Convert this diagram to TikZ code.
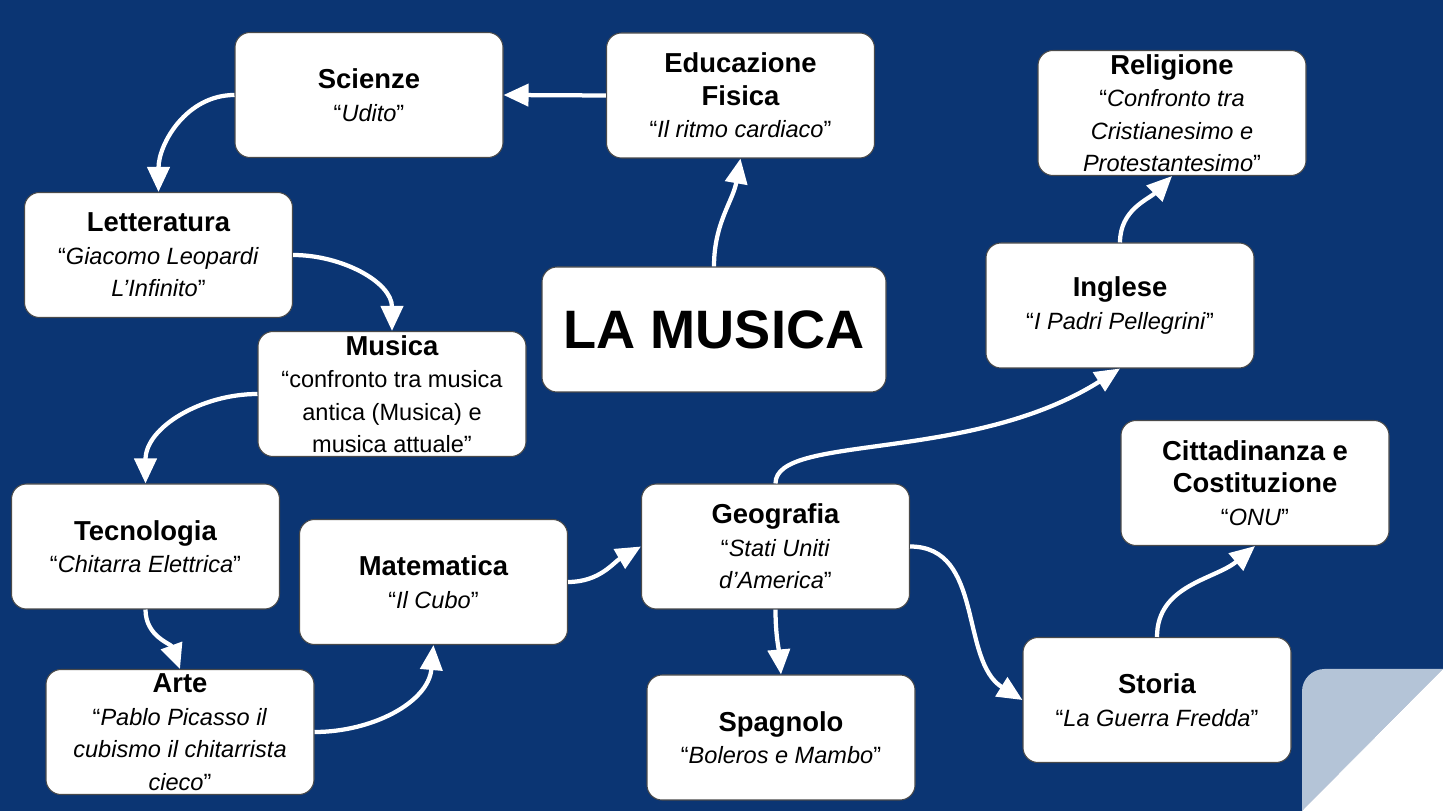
\documentclass[tikz,border=0pt]{standalone}
\usepackage{fontspec}
\setmainfont{Liberation Sans}
\usetikzlibrary{arrows.meta}
\definecolor{cBg}{HTML}{0B3573}
\definecolor{cEdge}{HTML}{4A4A4A}
\definecolor{cFold}{HTML}{B4C4D7}
\newcommand{\titolo}[1]{{\fontsize{15.6}{18.5}\selectfont\bfseries #1}}
\tikzset{
  every node/.style={font=\fontsize{13.4}{18.5}\selectfont, text=black},
  subj/.style={draw=cEdge, line width=0.6pt, rounded corners=0.3cm, fill=white, align=center, minimum width=5.36cm, minimum height=2.5cm, inner sep=1pt},
  hub/.style={subj, minimum width=6.88cm, font=\fontsize{30.8}{36}\selectfont\bfseries},
  arr/.style={-{Triangle[length=0.5cm,width=0.44cm]}, line width=0.085cm, draw=white},
}

\begin{document}
\begin{tikzpicture}[x=1cm,y=1cm]
% background and folded corner
\fill[cBg] (0,0) rectangle (28.86,16.22);
\fill[cFold] (26.04,0) -- (26.04,2.39) arc[start angle=180,end angle=90,radius=0.45] -- (28.86,2.84) -- cycle;
\fill[white] (28.86,2.84) -- (28.86,0) -- (26.04,0) -- cycle;
% central topic
\node[hub] (hub) at (14.28,9.63) {LA MUSICA};
% subjects
\node[subj] (sci) at (7.38,14.32) {\titolo{Scienze}\\“\textit{Udito}”};
\node[subj] (edf) at (14.81,14.31) {\titolo{Educazione}\\\titolo{Fisica}\\“\textit{Il ritmo cardiaco}”};
\node[subj] (rel) at (23.44,13.96) {\titolo{Religione}\\“\textit{Confronto tra}\\\textit{Cristianesimo e}\\\textit{Protestantesimo}”};
\node[subj] (let) at (3.17,11.12) {\titolo{Letteratura}\\“\textit{Giacomo Leopardi}\\\textit{L’Infinito}”};
\node[subj] (ing) at (22.40,10.11) {\titolo{Inglese}\\“\textit{I Padri Pellegrini}”};
\node[subj] (mus) at (7.84,8.34) {\titolo{Musica}\\“confronto tra musica\\antica (Musica) e\\musica attuale”};
\node[subj] (cit) at (25.10,6.56) {\titolo{Cittadinanza e}\\\titolo{Costituzione}\\“\textit{ONU}”};
\node[subj] (tec) at (2.91,5.29) {\titolo{Tecnologia}\\“\textit{Chitarra Elettrica}”};
\node[subj] (mat) at (8.67,4.58) {\titolo{Matematica}\\“\textit{Il Cubo}”};
\node[subj] (geo) at (15.51,5.29) {\titolo{Geografia}\\“\textit{Stati Uniti}\\\textit{d’America}”};
\node[subj] (art) at (3.60,1.58) {\titolo{Arte}\\“\textit{Pablo Picasso il}\\\textit{cubismo il chitarrista}\\\textit{cieco}”};
\node[subj] (spa) at (15.62,1.47) {\titolo{Spagnolo}\\“\textit{Boleros e Mambo}”};
\node[subj] (sto) at (23.14,2.22) {\titolo{Storia}\\“\textit{La Guerra Fredda}”};
% arrows
\draw[arr] (hub.north) to[out=90,in=260] (edf.south);
\draw[arr] (edf.west) -- (sci.east);
\draw[arr] (sci.west) to[out=180,in=90] (let.north);
\draw[arr] (let.east) to[out=0,in=90] (mus.north);
\draw[arr] (mus.west) to[out=180,in=90] (tec.north);
\draw[arr] (tec.south) to[out=-90,in=110] (art.north);
\draw[arr] (art.east) to[out=0,in=-95] (mat.south);
\draw[arr] (mat.east) to[out=0,in=210] (geo.west);
\draw[arr] (geo.north) .. controls +(0,1.0) and +(-3,-1.9) .. (ing.south);
\draw[arr] (ing.north) to[out=90,in=225] (rel.south);
\draw[arr] (geo.south) to[out=-90,in=95] (spa.north);
\draw[arr] (geo.east) to[out=0,in=148] (sto.west);
\draw[arr] (sto.north) to[out=90,in=220] (cit.south);
\end{tikzpicture}
\end{document}
